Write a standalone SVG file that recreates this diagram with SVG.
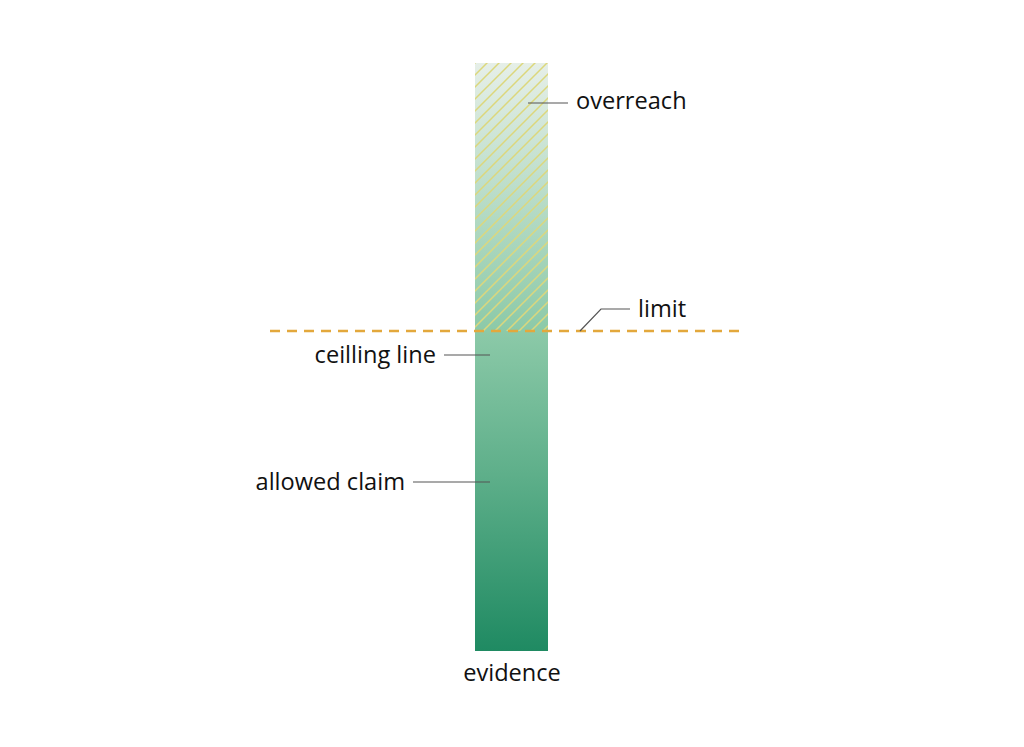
<svg xmlns="http://www.w3.org/2000/svg" width="1024" height="747" viewBox="0 0 1024 747">
<style>
.lbl{font-family:"Open Sans","Noto Sans","Liberation Sans",sans-serif;font-size:23.6px;fill:#111111}
.lead{stroke:#555;stroke-width:1.2;fill:none}
</style>
<defs>
<linearGradient id="bar" x1="0" y1="0" x2="0" y2="1">
<stop offset="0" stop-color="#e6efe8"/>
<stop offset="0.45" stop-color="#8dcaa9"/>
<stop offset="0.7" stop-color="#5eaf8a"/>
<stop offset="1" stop-color="#1f8a62"/>
</linearGradient>
<pattern id="hatch" patternUnits="userSpaceOnUse" x="475" y="63" width="12" height="12">
<path d="M-2,2 L2,-2 M0,12 L12,0 M10,14 L14,10" stroke="#dcd77c" stroke-width="1.5"/>
</pattern>
</defs>
<rect width="1024" height="747" fill="#ffffff"/>
<g id="bar-node">
<rect x="475" y="63" width="73" height="588" fill="url(#bar)"/>
<rect x="475" y="63" width="73" height="268" fill="url(#hatch)"/>
</g>
<g id="limit-line">
<line x1="270" y1="331" x2="740" y2="331" stroke="#e3a83c" stroke-width="2.5" stroke-dasharray="10,7"/>
</g>
<g id="connectors">
<path class="lead" d="M528 103 H568"/>
<path class="lead" d="M580 331 L601 309 H630"/>
<path class="lead" d="M444 355 H490"/>
<path class="lead" d="M413 482 H490"/>
</g>
<g id="overreach"><text class="lbl" x="576" y="109">overreach</text></g>
<g id="limit"><text class="lbl" x="638" y="317">limit</text></g>
<g id="ceilling"><text class="lbl" x="436" y="363" text-anchor="end">ceilling line</text></g>
<g id="allowed"><text class="lbl" x="405" y="490" text-anchor="end">allowed claim</text></g>
<g id="evidence"><text class="lbl" x="512" y="681" text-anchor="middle">evidence</text></g>
</svg>
